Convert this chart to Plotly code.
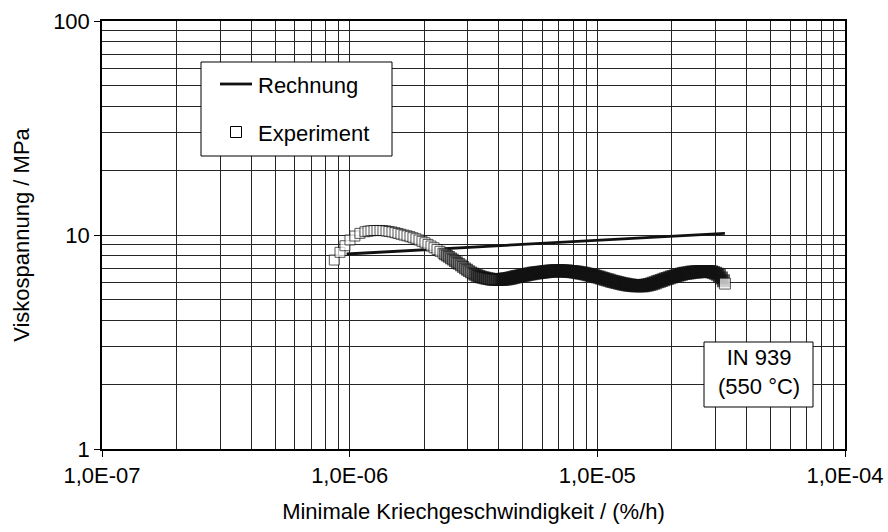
import plotly.graph_objects as go

# ---------------- data ----------------
# Rechnung (calculated line)
rate_calc = [0.972e-6, 32.75e-6]
stress_calc = [8.15, 10.18]

# Experiment: minimum creep rate in units of 1e-6 %/h, viscous stress in MPa
rate_exp_e6 = [
    0.867, 0.914, 0.957, 1.003, 1.050, 1.100,
    1.153, 1.186, 1.219, 1.254, 1.289, 1.326, 1.363, 1.402, 1.441, 1.482,
    1.524, 1.567, 1.611, 1.657, 1.704, 1.752, 1.801, 1.852, 1.905, 1.959,
    2.014, 2.071, 2.130, 2.190, 2.252, 2.316, 2.381,
    2.426, 2.471, 2.518, 2.565, 2.613, 2.662, 2.712, 2.763, 2.815, 2.868,
    2.922, 2.977, 3.033, 3.090, 3.148, 3.207, 3.267, 3.328, 3.391, 3.455,
    3.520, 3.586, 3.653, 3.722, 3.792, 3.863, 3.936, 4.010,
    4.085, 4.162, 4.240, 4.320, 4.401, 4.484, 4.568, 4.654, 4.742, 4.831,
    4.922, 5.014, 5.109, 5.205, 5.302, 5.402, 5.504, 5.607, 5.713, 5.820,
    5.929, 6.041, 6.154, 6.270, 6.388, 6.508, 6.630, 6.755, 6.882, 7.011,
    7.143, 7.278, 7.414, 7.554, 7.696, 7.840, 7.988, 8.138, 8.291, 8.447,
    8.606, 8.768, 8.932, 9.100, 9.271, 9.446, 9.623, 9.804, 9.988, 10.18,
    10.37, 10.56, 10.76, 10.96, 11.17, 11.38, 11.59, 11.81, 12.03, 12.26,
    12.49, 12.73, 12.96, 13.21, 13.46, 13.71, 13.97, 14.23, 14.50, 14.77,
    15.05, 15.33, 15.62, 15.91, 16.21, 16.52, 16.83, 17.14, 17.47, 17.79,
    18.13, 18.47, 18.82, 19.17, 19.53, 19.90, 20.27, 20.65, 21.04, 21.44,
    21.84, 22.25, 22.67, 23.10, 23.53, 23.97, 24.42, 24.88, 25.35, 25.83,
    26.31, 26.81, 27.31, 27.82, 28.35, 28.88, 29.42, 29.98, 30.54, 31.11,
    31.70, 32.29, 32.75,
]
stress_exp = [
    7.64, 8.30, 8.91, 9.48, 9.89, 10.18,
    10.36, 10.42, 10.47, 10.49, 10.50, 10.50, 10.48, 10.44, 10.39, 10.33,
    10.25, 10.17, 10.08, 9.99, 9.91, 9.82, 9.71, 9.60, 9.47, 9.34,
    9.20, 9.04, 8.88, 8.72, 8.56, 8.39, 8.22,
    8.12, 8.01, 7.90, 7.78, 7.67, 7.56, 7.44, 7.33, 7.21, 7.09,
    6.98, 6.88, 6.78, 6.69, 6.61, 6.54, 6.47, 6.42, 6.37, 6.33,
    6.29, 6.26, 6.24, 6.22, 6.20, 6.19, 6.19, 6.19,
    6.20, 6.21, 6.23, 6.25, 6.27, 6.30, 6.33, 6.36, 6.39, 6.42,
    6.45, 6.48, 6.51, 6.54, 6.57, 6.59, 6.62, 6.64, 6.66, 6.68,
    6.70, 6.72, 6.74, 6.76, 6.77, 6.78, 6.79, 6.80, 6.80, 6.80,
    6.80, 6.79, 6.79, 6.78, 6.76, 6.75, 6.73, 6.71, 6.69, 6.67,
    6.64, 6.62, 6.59, 6.56, 6.52, 6.49, 6.46, 6.42, 6.38, 6.34,
    6.30, 6.26, 6.22, 6.18, 6.14, 6.10, 6.07, 6.03, 6.00, 5.96,
    5.93, 5.90, 5.88, 5.86, 5.84, 5.82, 5.81, 5.80, 5.79, 5.79,
    5.79, 5.80, 5.82, 5.84, 5.87, 5.91, 5.95, 5.99, 6.04, 6.08,
    6.13, 6.18, 6.23, 6.27, 6.32, 6.36, 6.40, 6.44, 6.48, 6.52,
    6.56, 6.60, 6.63, 6.65, 6.67, 6.69, 6.71, 6.72, 6.73, 6.74,
    6.75, 6.75, 6.76, 6.76, 6.75, 6.73, 6.68, 6.62, 6.55, 6.46,
    6.30, 6.12, 5.93,
]

x_tickvals = [1e-7, 1e-6, 1e-5, 1e-4]
x_ticktext = ["1,0E-07", "1,0E-06", "1,0E-05", "1,0E-04"]
y_tickvals = [1, 10, 100]
y_ticktext = ["1", "10", "100"]

legend_names = ["Rechnung", "Experiment"]
x_title = "Minimale Kriechgeschwindigkeit / (%/h)"
y_title = "Viskospannung / MPa"
note_text = "IN 939<br>(550 °C)"

# ---------------- figure ----------------
FONT = "Liberation Sans, Arial, Helvetica, sans-serif"
FS = 22
W, H = 888, 532
ML, MR, MT, MB = 102, 43, 21, 83
PW, PH = W - ML - MR, H - MT - MB


def px_to_paper(px, py):
    return (px - ML) / PW, (H - MB - py) / PH


rate_exp = [v * 1e-6 for v in rate_exp_e6]
# marker styling: sparse early points appear as hollow squares, the densely
# overlapping later points merge into a dark band
edge_w, sizes, fills = [], [], []
for v in rate_exp_e6:
    if v > 4.05:
        edge_w.append(1.5)
        sizes.append(11.5)
        fills.append("#141414")
    elif v > 3.2:
        edge_w.append(1.5)
        sizes.append(11)
        fills.append("#4a4a4a")
    elif v > 2.4:
        edge_w.append(1.3)
        sizes.append(10.5)
        fills.append("#9a9a9a")
    else:
        edge_w.append(1)
        sizes.append(10)
        fills.append("white")
edge_w[-1] = 1
sizes[-1] = 11
fills[-1] = "white"

fig = go.Figure()
fig.add_trace(go.Scatter(
    x=rate_calc, y=stress_calc, mode="lines", name=legend_names[0],
    line=dict(color="#111111", width=2.8), showlegend=False,
))
fig.add_trace(go.Scatter(
    x=rate_exp, y=stress_exp, mode="markers", name=legend_names[1],
    marker=dict(symbol="square", size=sizes, color=fills,
                line=dict(color="#111111", width=edge_w)),
    showlegend=False,
))

minor_x = [m * 10.0 ** e for e in range(-7, -4) for m in range(2, 10)]
minor_y = [m * 10.0 ** e for e in range(0, 2) for m in range(2, 10)]
GRID = "#262626"

fig.update_xaxes(
    type="log", range=[-7, -4],
    tickmode="array", tickvals=x_tickvals, ticktext=x_ticktext,
    ticks="outside", ticklen=6, tickcolor="black", tickwidth=1,
    tickfont=dict(family=FONT, size=FS, color="black"),
    showline=True, linecolor="black", linewidth=1.5, mirror=True,
    showgrid=True, gridcolor=GRID, gridwidth=1, zeroline=False,
    minor=dict(tickmode="array", tickvals=minor_x, showgrid=True,
               gridcolor=GRID, gridwidth=1, ticks=""),
    title=dict(text=x_title, font=dict(family=FONT, size=FS, color="black"),
               standoff=16),
)
fig.update_yaxes(
    type="log", range=[0, 2],
    tickmode="array", tickvals=y_tickvals, ticktext=y_ticktext,
    ticks="outside", ticklen=6, tickcolor="black", tickwidth=1,
    tickfont=dict(family=FONT, size=FS, color="black"),
    showline=True, linecolor="black", linewidth=1.5, mirror=True,
    showgrid=True, gridcolor=GRID, gridwidth=1, zeroline=False,
    minor=dict(tickmode="array", tickvals=minor_y, showgrid=True,
               gridcolor=GRID, gridwidth=1, ticks=""),
    title=dict(text=y_title, font=dict(family=FONT, size=FS, color="black"),
               standoff=17),
)

shapes = []
annotations = []

# legend box
lx0, ly0 = px_to_paper(201, 156)
lx1, ly1 = px_to_paper(392, 62)
shapes.append(dict(type="rect", xref="paper", yref="paper", x0=lx0, y0=ly0,
                   x1=lx1, y1=ly1, line=dict(color="black", width=1),
                   fillcolor="white", layer="above"))
sx0, sy = px_to_paper(220, 84)
sx1, _ = px_to_paper(252, 84)
shapes.append(dict(type="line", xref="paper", yref="paper", x0=sx0, y0=sy,
                   x1=sx1, y1=sy, line=dict(color="#111111", width=2.8),
                   layer="above"))
qx0, qy0 = px_to_paper(230.5, 137.5)
qx1, qy1 = px_to_paper(241.5, 126.5)
shapes.append(dict(type="rect", xref="paper", yref="paper", x0=qx0, y0=qy0,
                   x1=qx1, y1=qy1, line=dict(color="black", width=1),
                   fillcolor="white", layer="above"))
for name, py in zip(legend_names, [85, 133]):
    tx, ty = px_to_paper(256, py)
    annotations.append(dict(text=name, xref="paper", yref="paper", x=tx, y=ty,
                            xanchor="left", yanchor="middle", showarrow=False,
                            font=dict(family=FONT, size=FS, color="black")))

# note box
nx0, ny0 = px_to_paper(704, 407)
nx1, ny1 = px_to_paper(813, 342)
shapes.append(dict(type="rect", xref="paper", yref="paper", x0=nx0, y0=ny0,
                   x1=nx1, y1=ny1, line=dict(color="black", width=1),
                   fillcolor="white", layer="above"))
cx, cy = px_to_paper(758.5, 372)
annotations.append(dict(text=note_text, xref="paper", yref="paper", x=cx, y=cy,
                        xanchor="center", yanchor="middle", showarrow=False,
                        align="center",
                        font=dict(family=FONT, size=FS, color="black")))

fig.update_layout(
    width=W, height=H,
    margin=dict(l=ML, r=MR, t=MT, b=MB, autoexpand=False),
    paper_bgcolor="white", plot_bgcolor="white",
    font=dict(family=FONT, size=FS, color="black"),
    shapes=shapes, annotations=annotations, showlegend=False,
)

fig.write_html("out.html")
